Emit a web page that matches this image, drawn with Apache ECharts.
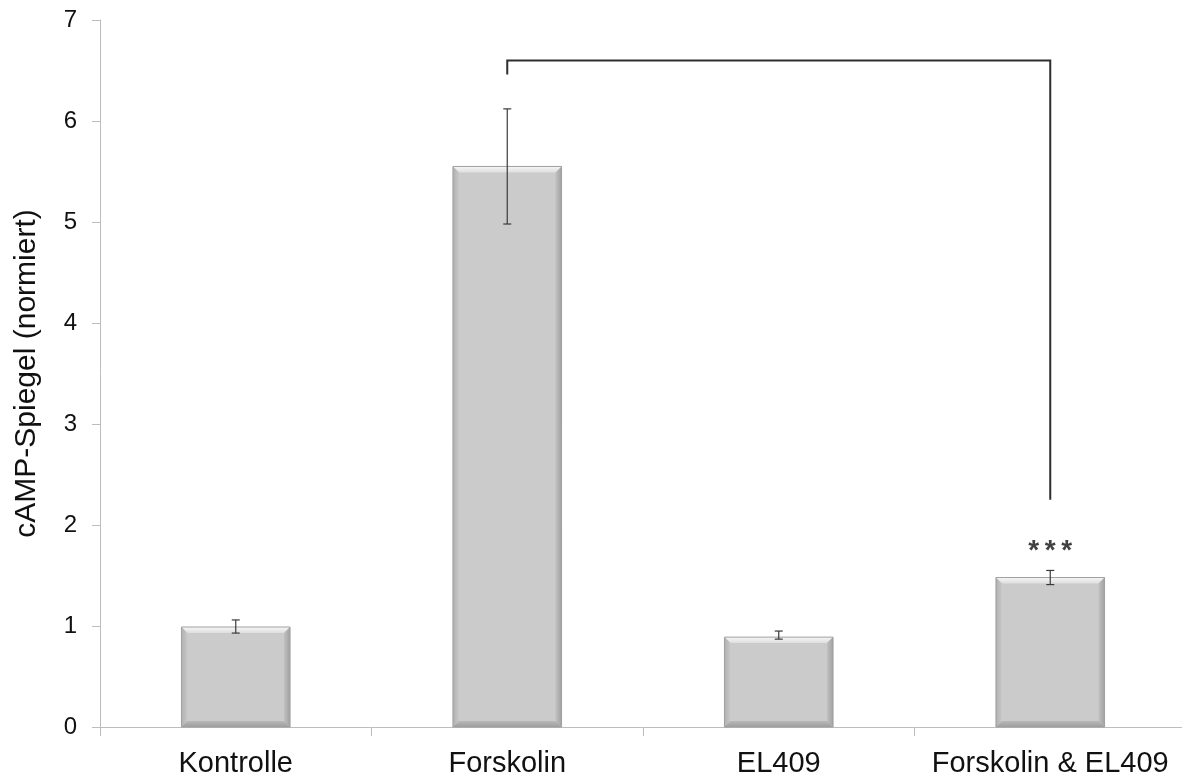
<!DOCTYPE html>
<html>
<head>
<meta charset="utf-8">
<script src="https://cdn.jsdelivr.net/npm/echarts@6/dist/echarts.min.js"></script>
<style>
  html, body { margin: 0; padding: 0; background: #fff; }
  #chart { width: 1182px; height: 775px; }
</style>
</head>
<body>
<div id="chart"></div>
<script>
// Normalised cAMP levels per treatment, with error bars
const categories = ['Kontrolle', 'Forskolin', 'EL409', 'Forskolin & EL409'];
const means = [0.99, 5.55, 0.89, 1.48];
const errLow = [0.93, 4.98, 0.87, 1.41];
const errHigh = [1.06, 6.12, 0.95, 1.55];
const yTicks = [0, 1, 2, 3, 4, 5, 6, 7];
// Significance bracket: from category, to category, top level, left foot, right foot
const bracket = [1, 3, 6.60, 6.46, 2.25];
const bracketLabel = '*\u2009*\u2009*';
const bracketLabelValue = 1.74;

const FONT = '"Liberation Sans", Arial, sans-serif';
const chart = echarts.init(document.getElementById('chart'));

// Bevelled bar drawn from the bar's value through the axes
function renderBevelBar(params, api) {
  const i = api.value(0);
  const v = api.value(1);
  const base = api.coord([i, 0]);
  const top = api.coord([i, v]);
  const w = api.size([1, 0])[0] * 0.4;
  const x0 = base[0] - w / 2, x1 = base[0] + w / 2;
  const y0 = top[1], y1 = base[1];
  const b = 6;
  return {
    type: 'group',
    children: [
      { type: 'rect', shape: { x: x0, y: y0, width: w, height: y1 - y0 }, style: { fill: '#cbcbcb' } },
      { type: 'polygon', shape: { points: [[x0, y0], [x1, y0], [x1 - b, y0 + b], [x0 + b, y0 + b]] },
        style: { fill: new echarts.graphic.LinearGradient(0, 0, 0, 1, [{ offset: 0, color: '#f6f6f6' }, { offset: 1, color: '#dedede' }]) } },
      { type: 'polygon', shape: { points: [[x0, y0], [x0 + b, y0 + b], [x0 + b, y1 - b], [x0, y1]] },
        style: { fill: new echarts.graphic.LinearGradient(0, 0, 1, 0, [{ offset: 0, color: '#b0b0b0' }, { offset: 1, color: '#c8c8c8' }]) } },
      { type: 'polygon', shape: { points: [[x1, y0], [x1 - b, y0 + b], [x1 - b, y1 - b], [x1, y1]] },
        style: { fill: new echarts.graphic.LinearGradient(0, 0, 1, 0, [{ offset: 0, color: '#c0c0c0' }, { offset: 1, color: '#a2a2a2' }]) } },
      { type: 'polygon', shape: { points: [[x0, y1], [x0 + b, y1 - b], [x1 - b, y1 - b], [x1, y1]] },
        style: { fill: new echarts.graphic.LinearGradient(0, 0, 0, 1, [{ offset: 0, color: '#b8b8b8' }, { offset: 1, color: '#9e9e9e' }]) } },
      { type: 'rect', shape: { x: x0, y: y0, width: w, height: y1 - y0 }, style: { fill: 'none', stroke: '#a0a0a0', lineWidth: 1 } }
    ]
  };
}

function renderErrorBar(params, api) {
  const i = api.value(0);
  const lo = api.coord([i, api.value(1)]);
  const hi = api.coord([i, api.value(2)]);
  const c = 4;
  const style = { stroke: '#3a3a3a', lineWidth: 1.2 };
  return {
    type: 'group',
    children: [
      { type: 'line', shape: { x1: hi[0], y1: hi[1], x2: lo[0], y2: lo[1] }, style },
      { type: 'line', shape: { x1: hi[0] - c, y1: hi[1], x2: hi[0] + c, y2: hi[1] }, style },
      { type: 'line', shape: { x1: lo[0] - c, y1: lo[1], x2: lo[0] + c, y2: lo[1] }, style }
    ]
  };
}

function renderBracket(params, api) {
  const a = api.value(0), bIdx = api.value(1);
  const topL = api.coord([a, api.value(2)]);
  const topR = api.coord([bIdx, api.value(2)]);
  const footL = api.coord([a, api.value(3)]);
  const footR = api.coord([bIdx, api.value(4)]);
  return {
    type: 'polyline',
    shape: { points: [footL, topL, topR, footR] },
    style: { stroke: '#2e2e2e', lineWidth: 2, fill: 'none' }
  };
}

chart.setOption({
  animation: false,
  backgroundColor: '#ffffff',
  grid: { left: 100, width: 1086, top: 20, bottom: 48, containLabel: false, outerBoundsMode: 'none' },
  xAxis: {
    type: 'category',
    data: categories,
    axisLine: { lineStyle: { color: '#bdbdbd', width: 1 } },
    axisTick: { show: true, interval: 0, length: 9, lineStyle: { color: '#bdbdbd' } },
    axisLabel: { interval: 0, hideOverlap: false, color: '#111', fontFamily: FONT, fontSize: 29, margin: 22 }
  },
  yAxis: {
    type: 'value',
    min: yTicks[0],
    max: yTicks[yTicks.length - 1],
    interval: 1,
    name: 'cAMP-Spiegel (normiert)',
    nameLocation: 'middle',
    nameGap: 58,
    nameTextStyle: { color: '#111', fontFamily: FONT, fontSize: 30 },
    axisLine: { show: true, lineStyle: { color: '#bdbdbd', width: 1 } },
    axisTick: { show: true, length: 8, lineStyle: { color: '#bdbdbd' } },
    splitLine: { show: false },
    axisLabel: { color: '#111', fontFamily: FONT, fontSize: 24, margin: 23 }
  },
  series: [
    {
      type: 'custom',
      renderItem: renderBevelBar,
      data: means.map((v, i) => [i, v]),
      z: 2
    },
    {
      type: 'custom',
      renderItem: renderErrorBar,
      data: means.map((v, i) => [i, errLow[i], errHigh[i]]),
      z: 3
    },
    {
      type: 'custom',
      renderItem: renderBracket,
      data: [bracket],
      z: 4
    },
    {
      type: 'scatter',
      symbolSize: 0,
      data: [[bracket[1], bracketLabelValue]],
      label: {
        show: true,
        formatter: bracketLabel,
        position: 'inside',
        color: '#111',
        fontFamily: FONT,
        fontSize: 28,
        fontWeight: 'bold'
      },
      z: 5
    }
  ]
});
</script>
</body>
</html>
